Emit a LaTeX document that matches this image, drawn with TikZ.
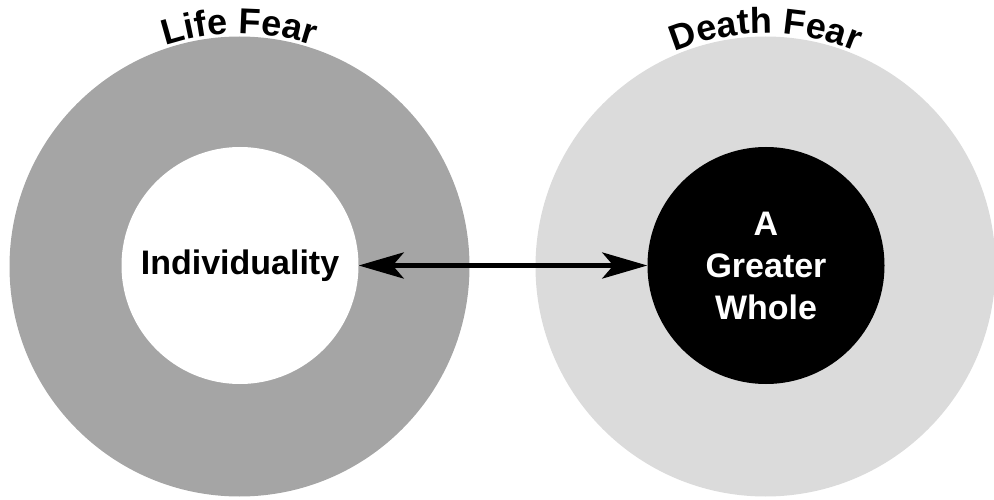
\documentclass[tikz,border=0pt]{standalone}
\usepackage{fontspec}
\setmainfont{Liberation Sans}
\usetikzlibrary{arrows.meta,decorations.text}
\definecolor{lifegray}{HTML}{A5A5A5}
\definecolor{deathgray}{HTML}{DBDBDB}
\tikzset{
  ring/.style={circle, draw=none, minimum size=460pt, inner sep=0pt},
  core/.style={circle, draw=none, minimum size=237pt, inner sep=0pt, align=center,
    font=\bfseries\fontsize{34}{42}\selectfont},
  link/.style={{Stealth[length=45pt,width=26pt,inset=11pt]}-{Stealth[length=45pt,width=26pt,inset=11pt]}, line width=5pt},
  arctitle/.style={decorate, decoration={text along path, text align=center,
    text format delimiters={|}{|}, text={#1}}}
}
\begin{document}
\begin{tikzpicture}[x=1pt,y=1pt]
  \useasboundingbox (0,0) rectangle (994,499);
  % outer rings
  \node[ring, fill=lifegray]  (lifering)  at (239.5,232.5) {};
  \node[ring, fill=deathgray] (deathring) at (765.5,232.5) {};
  % inner discs
  \node[core, fill=white] (self)  at (240,233.5) {Individuality};
  \node[core, fill=black, text=white] (whole) at (766,233.5) {A\\Greater\\Whole};
  % two-way link between the discs
  \draw[link] (self.east) -- (whole.west);
  % curved titles above the rings
  \path[arctitle={|\bfseries\fontsize{36}{40}\selectfont|Life Fear}]
    ([shift={(150:233)}]lifering.center) arc[start angle=150, end angle=30, radius=233];
  \path[arctitle={|\bfseries\fontsize{36}{40}\selectfont|Death Fear}]
    ([shift={(150:233)}]deathring.center) arc[start angle=150, end angle=30, radius=233];
\end{tikzpicture}
\end{document}
